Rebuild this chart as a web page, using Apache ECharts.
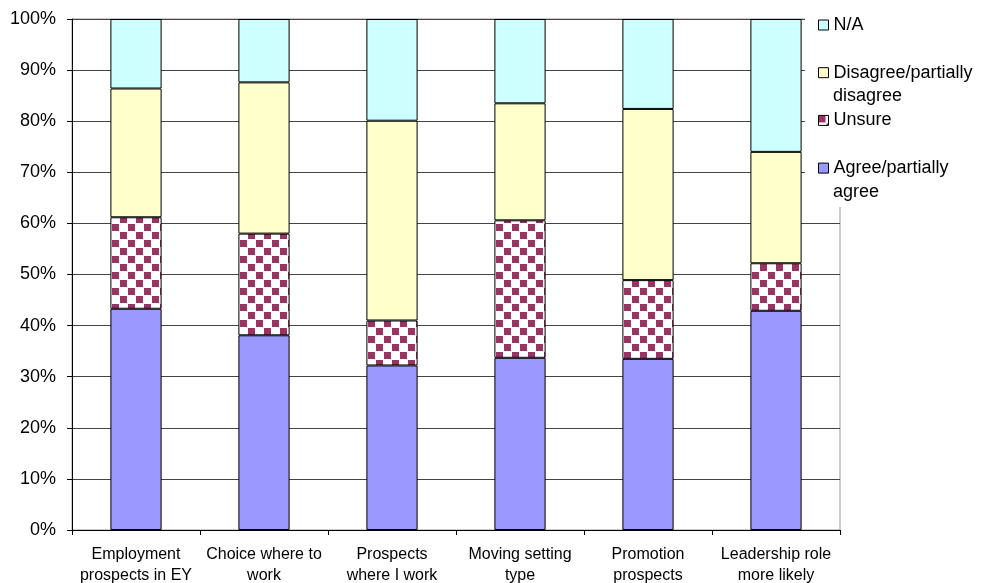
<!DOCTYPE html>
<html>
<head>
<meta charset="utf-8">
<script src="https://cdn.jsdelivr.net/npm/echarts@6/dist/echarts.min.js"></script>
<style>
html,body{margin:0;padding:0;background:#fff;}
#chart{width:981px;height:583px;}
</style>
</head>
<body>
<div id="chart"></div>
<script>
const categories = ['Employment\nprospects in EY', 'Choice where to\nwork', 'Prospects\nwhere I work', 'Moving setting\ntype', 'Promotion\nprospects', 'Leadership role\nmore likely'];
const seriesNames = ['Agree/partially agree', 'Unsure', 'Disagree/partially disagree', 'N/A'];
const agree = [43.3, 38.1, 32.2, 33.7, 33.5, 42.9];
const unsure = [17.9, 19.9, 8.8, 26.9, 15.4, 9.3];
const disagree = [25.2, 29.6, 39.1, 22.9, 33.5, 21.8];
const na = [13.6, 12.4, 19.9, 16.5, 17.6, 26.0];
const yTicks = [0, 10, 20, 30, 40, 50, 60, 70, 80, 90, 100];

const FONT = '"Liberation Sans", Arial, sans-serif';

// checkerboard pattern for "Unsure"
const pc = document.createElement('canvas');
pc.width = 16; pc.height = 16;
const pctx = pc.getContext('2d');
pctx.fillStyle = '#ffffff';
pctx.fillRect(0, 0, 16, 16);
pctx.fillStyle = '#993366';
pctx.fillRect(0, 0, 7, 7);
pctx.fillRect(8, 8, 7, 7);

const chart = echarts.init(document.getElementById('chart'), null, {renderer: 'canvas'});

const colors = ['#9999FF', {image: pc, repeat: 'repeat'}, '#FFFFCC', '#CCFFFF'];
const dataSets = [agree, unsure, disagree, na];

const firstLine = {
  'N/A': 'N/A',
  'Disagree/partially disagree': 'Disagree/partially',
  'Unsure': 'Unsure',
  'Agree/partially agree': 'Agree/partially'
};

const option = {
  animation: false,
  backgroundColor: '#fff',
  grid: {left: 72, right: 141, top: 19, bottom: 53, show: true, borderColor: '#999', borderWidth: 1,
         containLabel: false, outerBoundsMode: 'none'},
  legend: {
    orient: 'vertical',
    left: 805,
    top: 0,
    data: ['N/A', 'Disagree/partially disagree', 'Unsure', 'Agree/partially agree'],
    formatter: function (name) { return firstLine[name]; },
    icon: 'rect',
    itemWidth: 10,
    itemHeight: 10,
    itemGap: 27.7,
    padding: [15, 10, 29, 13],
    backgroundColor: '#fff',
    selectedMode: false,
    itemStyle: {borderColor: '#000', borderWidth: 1},
    textStyle: {fontSize: 18, fontFamily: FONT, color: '#000', lineHeight: 20}
  },
  graphic: [
    {type: 'text', x: 833, y: 96, z: 100, style: {text: 'disagree', font: '18px ' + FONT, fill: '#000', verticalAlign: 'middle'}},
    {type: 'text', x: 833, y: 192, z: 100, style: {text: 'agree', font: '18px ' + FONT, fill: '#000', verticalAlign: 'middle'}}
  ],
  xAxis: {
    type: 'category',
    data: categories,
    axisLine: {show: true, lineStyle: {color: '#000', width: 1}},
    axisTick: {show: true, length: 5, alignWithLabel: false, lineStyle: {color: '#000'}},
    axisLabel: {interval: 0, fontSize: 16, lineHeight: 21, color: '#000', fontFamily: FONT, margin: 14}
  },
  yAxis: {
    type: 'value',
    min: yTicks[0],
    max: yTicks[yTicks.length - 1],
    interval: 10,
    axisLine: {show: true, lineStyle: {color: '#000', width: 1}},
    axisTick: {show: true, length: 5, lineStyle: {color: '#000'}},
    axisLabel: {formatter: '{value}%', fontSize: 18, color: '#000', fontFamily: FONT, margin: 16},
    splitLine: {show: true, lineStyle: {color: '#444', width: 1}}
  },
  series: seriesNames.map(function (n, i) {
    return {
      name: n,
      type: 'bar',
      stack: 'total',
      barWidth: '40%',
      data: dataSets[i],
      itemStyle: {color: colors[i], borderColor: '#000', borderWidth: 1}
    };
  })
};
chart.setOption(option);
</script>
</body>
</html>
